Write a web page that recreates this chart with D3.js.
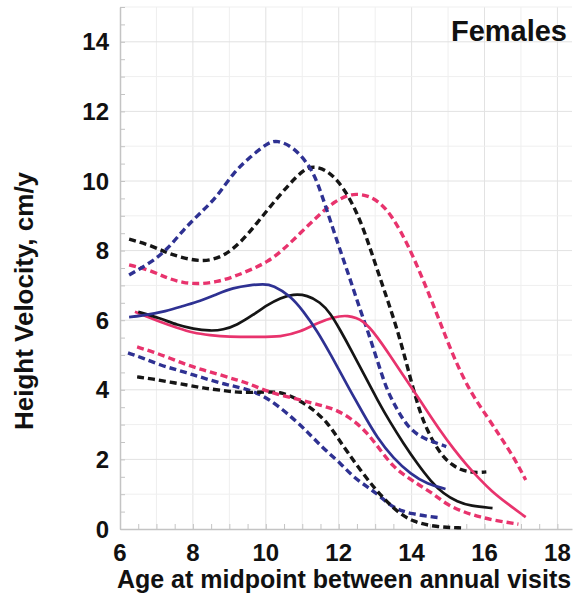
<!DOCTYPE html>
<html>
<head>
<meta charset="utf-8">
<script src="https://cdn.jsdelivr.net/npm/d3@7"></script>
<style>
  body { margin: 0; background: #fff; }
  text { font-family: "Liberation Sans", Arial, sans-serif; font-weight: bold; fill: #111; }
</style>
</head>
<body>
<svg id="chart" width="581" height="595"></svg>
<script>
// Tick values for both axes
const xTicks = [6, 8, 10, 12, 14, 16, 18];
const yTicks = [0, 2, 4, 6, 8, 10, 12, 14];

// Blue group
const blueHighAge = [6.25, 6.82, 7.29, 7.73, 8.2, 8.66, 9.1, 9.57, 10.04, 10.31, 10.75, 11.14, 11.41, 11.85, 12.32, 12.59, 12.79, 13.14, 13.34, 13.61, 13.88, 14.24, 14.6, 14.95];
const blueHighVel = [7.3, 7.64, 8.02, 8.59, 9.08, 9.54, 10.23, 10.69, 11.09, 11.18, 10.98, 10.52, 10.03, 8.59, 7.16, 6.29, 5.72, 4.57, 3.95, 3.42, 2.95, 2.64, 2.5, 2.37];
const blueMidAge = [6.25, 6.55, 7.29, 7.73, 8.2, 8.66, 9.1, 9.57, 9.93, 10.2, 10.67, 11.03, 11.41, 11.77, 12.13, 12.32, 12.68, 13.06, 13.5, 13.97, 14.43, 14.93];
const blueMidVel = [6.09, 6.12, 6.26, 6.41, 6.55, 6.75, 6.93, 7.01, 7.04, 7.01, 6.7, 6.26, 5.69, 5.03, 4.34, 3.97, 3.3, 2.61, 2.03, 1.58, 1.29, 1.15];
const blueLowAge = [6.22, 6.63, 7.1, 7.57, 8.01, 8.47, 8.94, 9.38, 9.93, 10.48, 10.86, 11.14, 11.41, 11.69, 12.04, 12.4, 12.79, 13.09, 13.5, 13.97, 14.79];
const blueLowVel = [5.06, 4.91, 4.71, 4.57, 4.43, 4.28, 4.14, 4.05, 3.85, 3.42, 3.07, 2.79, 2.5, 2.21, 1.9, 1.49, 1.21, 0.98, 0.6, 0.43, 0.32];

// Black group
const blackHighAge = [6.25, 6.82, 7.29, 7.73, 8.28, 8.83, 9.3, 9.76, 10.2, 10.67, 11.03, 11.3, 11.69, 12.13, 12.51, 12.79, 13.06, 13.34, 13.61, 13.85, 14.05, 14.25, 14.43, 14.65, 14.87, 15.1, 15.34, 15.7, 16.05];
const blackHighVel = [8.33, 8.16, 7.93, 7.79, 7.67, 7.82, 8.22, 8.79, 9.37, 9.94, 10.32, 10.43, 10.32, 9.83, 9.08, 8.3, 7.44, 6.58, 5.72, 4.8, 4.0, 3.3, 2.84, 2.4, 2.07, 1.85, 1.7, 1.61, 1.64];
const blackMidAge = [6.5, 7.1, 7.57, 8.01, 8.47, 8.83, 9.21, 9.65, 10.04, 10.4, 10.75, 11.14, 11.49, 11.77, 12.04, 12.37, 12.7, 13.06, 13.42, 13.77, 14.16, 14.52, 14.87, 15.26, 15.62, 16.22];
const blackMidVel = [6.24, 6.06, 5.86, 5.75, 5.69, 5.72, 5.86, 6.15, 6.44, 6.64, 6.75, 6.72, 6.52, 6.21, 5.72, 5.09, 4.43, 3.71, 3.05, 2.47, 1.87, 1.38, 1.01, 0.78, 0.66, 0.6];
const blackLowAge = [6.47, 6.91, 7.37, 7.84, 8.28, 8.75, 9.3, 9.98, 10.4, 10.75, 11.14, 11.41, 11.69, 11.96, 12.24, 12.59, 12.95, 13.28, 13.61, 14.05, 14.65, 15.4];
const blackLowVel = [4.37, 4.31, 4.22, 4.14, 4.05, 3.99, 3.91, 3.94, 3.94, 3.79, 3.56, 3.33, 3.05, 2.64, 2.21, 1.7, 1.21, 0.83, 0.49, 0.2, 0.06, 0.03];

// Pink group
const pinkHighAge = [6.25, 6.82, 7.29, 7.73, 8.2, 8.66, 9.1, 9.57, 10.04, 10.48, 10.95, 11.41, 11.85, 12.4, 12.95, 13.34, 13.69, 14.05, 14.43, 14.79, 15.15, 15.62, 16.08, 16.44, 16.8, 17.13];
const pinkHighVel = [7.59, 7.44, 7.21, 7.07, 7.04, 7.1, 7.24, 7.44, 7.67, 8.02, 8.51, 8.97, 9.4, 9.68, 9.54, 9.17, 8.59, 7.82, 6.87, 5.92, 4.94, 3.91, 3.22, 2.64, 2.07, 1.41];
const pinkMidAge = [6.41, 7.1, 7.57, 8.01, 8.47, 8.94, 9.85, 10.4, 10.95, 11.41, 11.85, 12.24, 12.68, 13.06, 13.4, 13.75, 14.1, 14.45, 14.8, 15.15, 15.5, 15.85, 16.2, 16.6, 17.13];
const pinkMidVel = [6.24, 5.95, 5.78, 5.63, 5.57, 5.52, 5.52, 5.52, 5.66, 5.92, 6.09, 6.15, 6.01, 5.52, 5.0, 4.45, 3.9, 3.35, 2.8, 2.3, 1.85, 1.45, 1.08, 0.75, 0.34];
const pinkLowAge = [6.47, 6.91, 7.37, 7.84, 8.28, 8.75, 9.21, 9.57, 10.04, 10.95, 11.49, 11.96, 12.4, 12.79, 13.14, 13.5, 13.88, 14.24, 14.6, 14.98, 15.42, 15.89, 16.36, 16.93];
const pinkLowVel = [5.23, 5.09, 4.91, 4.71, 4.57, 4.43, 4.28, 4.17, 3.94, 3.71, 3.56, 3.42, 3.13, 2.76, 2.27, 1.78, 1.49, 1.24, 1.01, 0.69, 0.49, 0.34, 0.23, 0.14];

const blue = "#2e3192";
const black = "#151515";
const pink = "#e8336d";

const svg = d3.select("#chart");
svg.append("rect").attr("width", 581).attr("height", 595).attr("fill", "#fff");

const x = d3.scaleLinear().domain([6, 18.4]).range([120, 572]);
const y = d3.scaleLinear().domain([0, 15]).range([529, 7]);

// Grid lines every whole unit
const grid = svg.append("g");
grid.selectAll("line.vx")
    .data(d3.range(7, 19))
    .enter().append("line")
    .attr("x1", d => x(d)).attr("x2", d => x(d))
    .attr("y1", y(0)).attr("y2", y(15))
    .attr("stroke", d => d % 2 === 0 ? "#e2e2e2" : "#efefef")
    .attr("stroke-width", 1);
grid.selectAll("line.hy")
    .data(d3.range(1, 16))
    .enter().append("line")
    .attr("x1", x(6)).attr("x2", 572)
    .attr("y1", d => y(d)).attr("y2", d => y(d))
    .attr("stroke", d => d % 2 === 0 ? "#e2e2e2" : "#efefef")
    .attr("stroke-width", 1);

// Minor ticks pointing into the plot
const xMinor = d3.axisBottom(x).tickValues(d3.range(6, 18.5, 0.5)).tickSizeInner(-5).tickSizeOuter(0).tickFormat("");
const yMinor = d3.axisLeft(y).tickValues(d3.range(0, 15.5, 0.5)).tickSizeInner(-5).tickSizeOuter(0).tickFormat("");

const gx = svg.append("g").attr("transform", `translate(0,${y(0)})`).call(xMinor);
const gy = svg.append("g").attr("transform", `translate(${x(6)},0)`).call(yMinor);
[gx, gy].forEach(g => {
    g.select(".domain").attr("stroke", "#c4c4c4").attr("stroke-width", 1.5);
    g.selectAll(".tick line").attr("stroke", "#c4c4c4");
});

// Tick labels
svg.append("g").selectAll("text")
    .data(xTicks)
    .enter().append("text")
    .attr("x", d => x(d))
    .attr("y", 561)
    .attr("text-anchor", "middle")
    .style("font-size", "24px")
    .text(d => d);

svg.append("g").selectAll("text")
    .data(yTicks)
    .enter().append("text")
    .attr("x", 109)
    .attr("y", d => y(d) + 8.5)
    .attr("text-anchor", "end")
    .style("font-size", "24px")
    .text(d => d);

// Axis titles
svg.append("text")
    .attr("x", 344)
    .attr("y", 588)
    .attr("text-anchor", "middle")
    .style("font-size", "25px")
    .text("Age at midpoint between annual visits");

svg.append("text")
    .attr("transform", "translate(33,301) rotate(-90)")
    .attr("text-anchor", "middle")
    .style("font-size", "26px")
    .text("Height Velocity, cm/y");

svg.append("text")
    .attr("x", 567)
    .attr("y", 41)
    .attr("text-anchor", "end")
    .style("font-size", "29px")
    .text("Females");

// Curves
const line = d3.line()
    .x(d => x(d[0]))
    .y(d => y(d[1]))
    .curve(d3.curveBasis);

function drawCurve(ages, vels, color, dashed) {
    svg.append("path")
        .datum(d3.zip(ages, vels))
        .attr("d", line)
        .attr("fill", "none")
        .attr("stroke", color)
        .attr("stroke-width", dashed ? 3.4 : 2.7)
        .attr("stroke-dasharray", dashed ? "7,4" : null)
        .attr("stroke-linecap", "butt");
}

drawCurve(blueLowAge, blueLowVel, blue, true);
drawCurve(blackLowAge, blackLowVel, black, true);
drawCurve(pinkLowAge, pinkLowVel, pink, true);
drawCurve(pinkHighAge, pinkHighVel, pink, true);
drawCurve(blackHighAge, blackHighVel, black, true);
drawCurve(blueHighAge, blueHighVel, blue, true);
drawCurve(pinkMidAge, pinkMidVel, pink, false);
drawCurve(blackMidAge, blackMidVel, black, false);
drawCurve(blueMidAge, blueMidVel, blue, false);
</script>
</body>
</html>
